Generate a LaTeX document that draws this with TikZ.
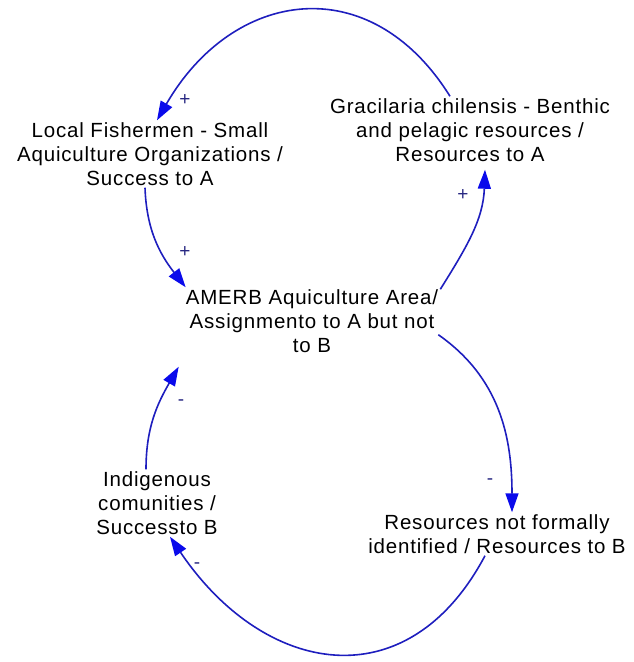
\documentclass[tikz,border=0pt]{standalone}
\usepackage{fontspec}
\setmainfont{Liberation Sans}[LetterSpace=4]
\usetikzlibrary{arrows.meta}
\definecolor{linkblue}{RGB}{30,30,190}
\definecolor{tipblue}{RGB}{10,10,235}
\definecolor{signblue}{RGB}{40,40,130}
\tikzset{
  var/.style={align=center, font=\fontsize{20.5}{24}\selectfont, inner sep=2pt, text=black},
  link/.style={draw=linkblue, line width=1.6pt, -{Triangle[length=19pt,width=13pt,color=tipblue]}},
  sign/.style={font=\fontsize{19}{19}\selectfont, text=signblue, inner sep=0pt},
}
\begin{document}
\begin{tikzpicture}[x=1pt,y=1pt]
\useasboundingbox (0,0) rectangle (634,-662);

% variables of the causal loop diagram
\node[var] (grac)  at (470,-130) {Gracilaria chilensis - Benthic\\and pelagic resources /\\Resources to A};
\node[var] (local) at (150,-154) {Local Fishermen - Small\\Aquiculture Organizations /\\Success to A};
\node[var] (amerb) at (312,-321) {AMERB Aquiculture Area/\\Assignmento to A but not\\to B};
\node[var] (indig) at (157,-503) {Indigenous\\comunities /\\Successto B};
\node[var] (resb)  at (497,-534) {Resources not formally\\identified / Resources to B};

% causal links
\draw[link] ([xshift=-20pt]grac.north) to[out=122,in=60,looseness=1.32] ([xshift=7pt]local.north);
\draw[link] ([xshift=-5pt]local.south) to[out=-88,in=128] ([xshift=2pt]amerb.north west);
\draw[link] ([yshift=-2pt]amerb.north east) to[out=58,in=-92] ([xshift=15pt,yshift=-6pt]grac.south);
\draw[link] ([xshift=-2pt,yshift=20pt]amerb.south east) to[out=-35,in=90] ([xshift=15pt]resb.north);
\draw[link] ([xshift=-12pt]resb.south) to[out=-118,in=-56,looseness=1.35] ([xshift=13pt]indig.south);
\draw[link] ([xshift=-11pt]indig.north) to[out=90,in=-120] ([xshift=-5pt,yshift=-12pt]amerb.south west);

% link polarities
\node[sign] (s1) at (185,-100) {+};
\node[sign] (s2) at (185,-252) {+};
\node[sign] (s3) at (463,-195) {+};
\node[sign] (s4) at (490,-482) {-};
\node[sign] (s5) at (197,-566) {-};
\node[sign] (s6) at (181,-403) {-};
\end{tikzpicture}
\end{document}
